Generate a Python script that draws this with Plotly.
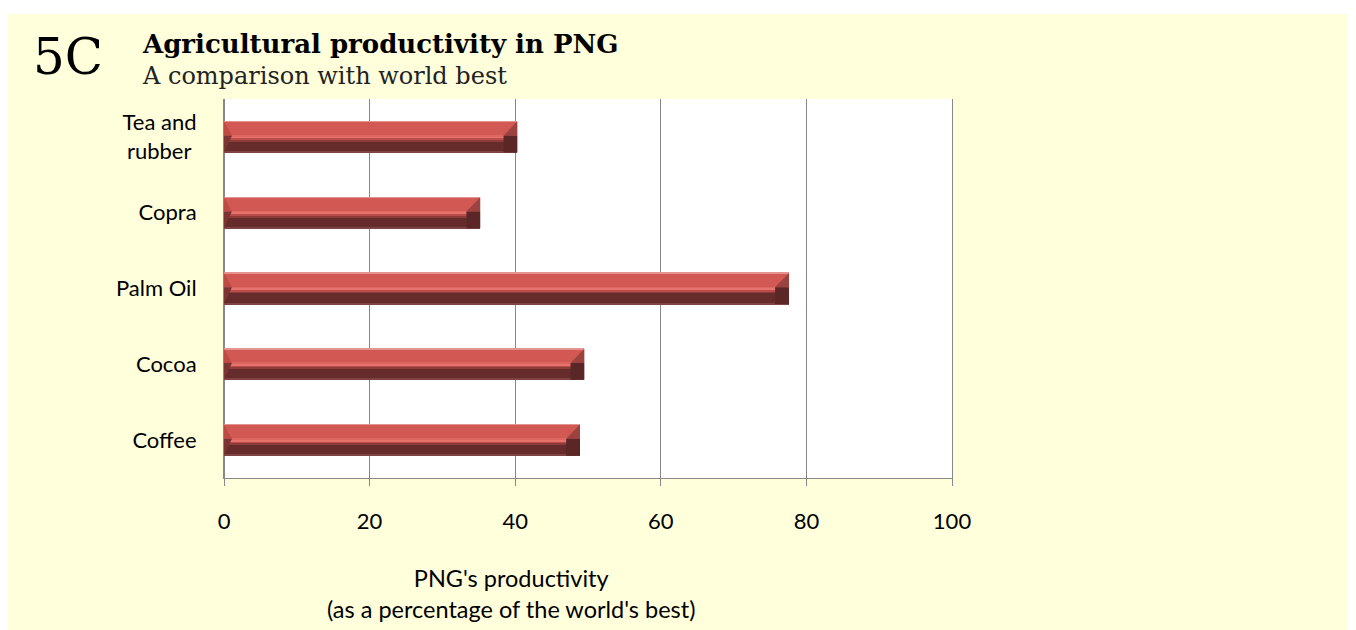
import plotly.graph_objects as go

# ---- data ----
categories = ["Coffee", "Cocoa", "Palm Oil", "Copra", "Tea and rubber"]
tick_labels = ["Coffee", "Cocoa", "Palm Oil", "Copra", "Tea and<br>rubber\u00a0"]
values = [48.9, 49.5, 77.6, 35.2, 40.3]
x_ticks = [0, 20, 40, 60, 80, 100]

# ---- layout constants ----
OFF = 8                      # page body margin
W, H = 1356, 630
L, R, T, B = 216, 412, 91, 160
PW, PH = W - L - R, H - T - B
BG = "#FFFFDC"
GRID = "#888888"
BAR_W = 0.41

def px_x(sx):
    return (sx - OFF - L) / PW

def px_y(sy):
    return (H - B - (sy - OFF)) / PH

pos = list(range(len(categories)))

fig = go.Figure()

# bevelled bars built from horizontal colour bands (fractions from the top of the bar)
bands = [
    (0.00, 0.03, "#E39490"),
    (0.03, 0.44, "#D25853"),
    (0.44, 0.49, "#DE6661"),
    (0.49, 0.55, "#E6736E"),
    (0.55, 0.60, "#B84D4A"),
    (0.60, 0.66, "#8E3C3A"),
    (0.66, 0.97, "#652C2B"),
    (0.97, 1.00, "#7E4443"),
]
for f0, f1, col in bands:
    fig.add_trace(go.Bar(
        y=pos, x=values, orientation="h",
        width=(f1 - f0) * BAR_W,
        offset=BAR_W / 2 - f1 * BAR_W,
        marker=dict(color=col, line=dict(width=0)),
        hoverinfo="skip", showlegend=False,
    ))

# bevel end caps (drawn from the data values)
CR = 1.9   # right cap depth (x units)
CL = 1.1   # left cap depth
MID = 0.46 # fraction from top where bevel meets
ru_x, ru_y, rl_x, rl_y, lu_x, lu_y, ll_x, ll_y = ([] for _ in range(8))
for p, v in zip(pos, values):
    top = p + BAR_W / 2
    bot = p - BAR_W / 2
    mid = top - MID * BAR_W
    ru_x += [v, v, v - CR, v, None]
    ru_y += [top, mid, mid, top, None]
    rl_x += [v - CR, v, v, v - CR, v - CR, None]
    rl_y += [mid, mid, bot, bot, mid, None]
    lu_x += [0, CL, 0, 0, None]
    lu_y += [top, mid, mid, top, None]
    ll_x += [0, CL, 0, 0, None]
    ll_y += [mid, mid, bot, mid, None]

for xs, ys, col in [(ru_x, ru_y, "#9C423F"), (rl_x, rl_y, "#5A2626"),
                    (lu_x, lu_y, "#BE4A46"), (ll_x, ll_y, "#7C3433")]:
    fig.add_trace(go.Scatter(
        x=xs, y=ys, mode="lines", fill="toself", fillcolor=col,
        line=dict(width=0, color=col), hoverinfo="skip", showlegend=False,
    ))

fig.update_layout(
    width=W, height=H,
    margin=dict(l=L, r=R, t=T, b=B, pad=0),
    paper_bgcolor=BG, plot_bgcolor="white",
    barmode="overlay", bargap=0,
    showlegend=False,
    xaxis=dict(
        range=[0, 100], tickvals=x_ticks, ticktext=[str(t) for t in x_ticks],
        showgrid=True, gridcolor=GRID, gridwidth=1,
        zeroline=True, zerolinecolor=GRID, zerolinewidth=1,
        showline=True, linecolor=GRID, linewidth=1,
        ticks="outside", ticklen=7, tickcolor=GRID, tickwidth=1,
        ticklabelstandoff=17,
        tickfont=dict(family="Lato", size=22, color="black"),
        fixedrange=True,
    ),
    yaxis=dict(
        range=[-0.5, 4.5], tickvals=pos, ticktext=tick_labels,
        showgrid=False, zeroline=False,
        showline=True, mirror=True, linecolor=GRID, linewidth=1,
        ticks="", ticklabelstandoff=22,
        tickfont=dict(family="Lato", size=22, color="black"),
        fixedrange=True,
    ),
    shapes=[
        dict(type="rect", xref="paper", yref="paper", layer="below",
             x0=px_x(OFF), x1=px_x(W + OFF), y0=px_y(14), y1=px_y(OFF),
             fillcolor="white", line=dict(width=0)),
    ],
    annotations=[
        dict(text="5C", xref="paper", yref="paper", x=px_x(31), y=px_y(57),
             xanchor="left", yanchor="middle", showarrow=False,
             font=dict(family="DejaVu Serif", size=50, color="black")),
        dict(text="<b>Agricultural productivity in PNG</b>", xref="paper", yref="paper",
             x=px_x(140), y=px_y(44), xanchor="left", yanchor="middle", showarrow=False,
             font=dict(family="DejaVu Serif", size=26, color="black")),
        dict(text="A comparison with world best", xref="paper", yref="paper",
             x=px_x(140), y=px_y(76), xanchor="left", yanchor="middle", showarrow=False,
             font=dict(family="DejaVu Serif", size=24, color="#222222")),
        dict(text="PNG's productivity<br>(as a percentage of the world's best)",
             xref="paper", yref="paper", x=px_x(511), y=px_y(593),
             xanchor="center", yanchor="middle", showarrow=False, align="center",
             font=dict(family="Lato", size=23.5, color="black")),
    ],
)

fig.write_html("out.html")
